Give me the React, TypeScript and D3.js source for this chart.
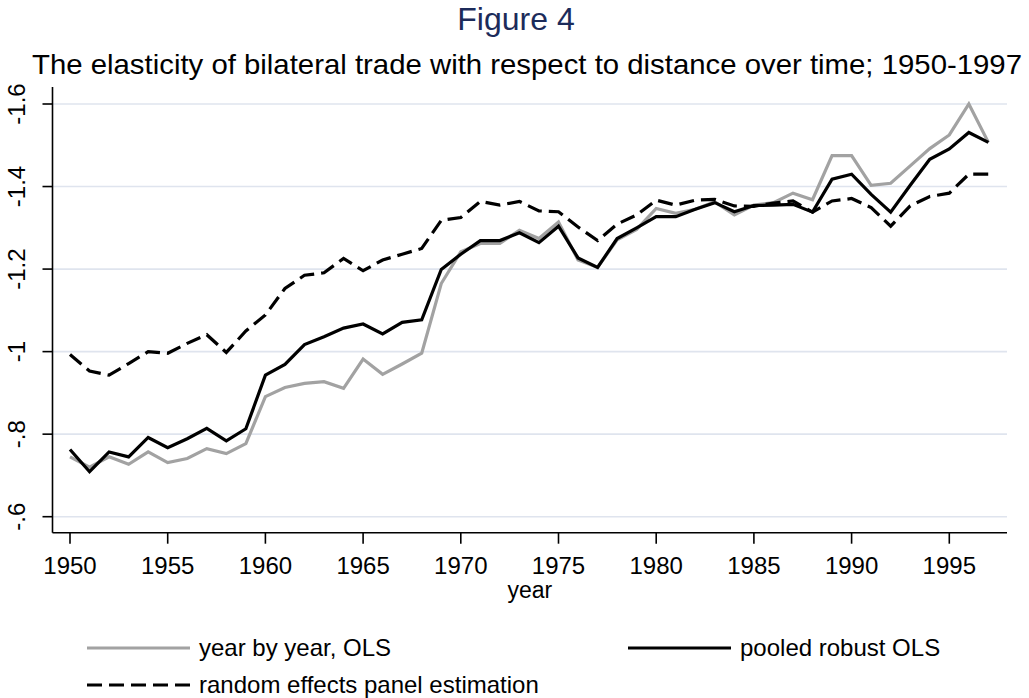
import React from 'react';
import * as d3 from 'd3';

const years = d3.range(1950, 1998);

const yearByYearOLS = [
  -0.745, -0.72, -0.745, -0.727, -0.757, -0.731, -0.741, -0.765, -0.753, -0.777,
  -0.891, -0.913, -0.923, -0.927, -0.911, -0.982, -0.945, -0.97, -0.996, -1.165,
  -1.242, -1.262, -1.262, -1.294, -1.274, -1.314, -1.222, -1.204, -1.271, -1.296,
  -1.347, -1.335, -1.345, -1.363, -1.331, -1.355, -1.361, -1.384, -1.368, -1.475,
  -1.475, -1.403, -1.408, -1.45, -1.492, -1.525, -1.6, -1.507,
];

const pooledRobustOLS = [
  -0.763, -0.709, -0.757, -0.745, -0.792, -0.767, -0.789, -0.814, -0.784, -0.813,
  -0.943, -0.969, -1.017, -1.036, -1.057, -1.067, -1.043, -1.071, -1.077, -1.199,
  -1.236, -1.269, -1.269, -1.288, -1.264, -1.304, -1.227, -1.204, -1.274, -1.3,
  -1.327, -1.327, -1.345, -1.361, -1.339, -1.354, -1.355, -1.357, -1.338, -1.418,
  -1.43, -1.381, -1.338, -1.403, -1.466, -1.491, -1.531, -1.507,
];

const randomEffects = [
  -0.993, -0.953, -0.943, -0.971, -1.0, -0.996, -1.02, -1.041, -0.998, -1.05,
  -1.089, -1.153, -1.185, -1.191, -1.226, -1.196, -1.222, -1.236, -1.25, -1.318,
  -1.325, -1.364, -1.355, -1.364, -1.341, -1.339, -1.302, -1.269, -1.309, -1.331,
  -1.367, -1.355, -1.367, -1.369, -1.353, -1.352, -1.36, -1.365, -1.338, -1.365,
  -1.371, -1.349, -1.304, -1.353, -1.376, -1.384, -1.43, -1.43,
];

const xTicks = [1950, 1955, 1960, 1965, 1970, 1975, 1980, 1985, 1990, 1995];
const yTicks = [-1.6, -1.4, -1.2, -1, -0.8, -0.6];
const yTickLabels = ['-1.6', '-1.4', '-1.2', '-1', '-.8', '-.6'];

const FONT = '"Liberation Sans", Arial, sans-serif';

const series = [
  { name: 'year by year, OLS', values: yearByYearOLS, color: '#a2a2a2', dash: null },
  { name: 'pooled robust OLS', values: pooledRobustOLS, color: '#000000', dash: null },
  { name: 'random effects panel estimation', values: randomEffects, color: '#000000', dash: '15,7' },
];

const App = () => {
  const width = 1029;
  const height = 698;

  // plot region in pixels
  const left = 52.5;
  const right = 1007;
  const top = 87;
  const bottom = 532.7;

  const x = d3.scaleLinear().domain([1950, 1995]).range([70, 949.3]);
  const y = d3.scaleLinear().domain([-0.6, -1.6]).range([516.7, 104]);

  const line = (vals: number[]) =>
    d3.line<number>()
      .x((_, i) => x(years[i]))
      .y(d => y(d))(vals) || '';

  const legendRows = [
    { s: series[0], lx: 87, ly: 648 },
    { s: series[1], lx: 628, ly: 648 },
    { s: series[2], lx: 87, ly: 685 },
  ];

  return (
    <svg
      width={width}
      height={height}
      style={{ position: 'absolute', left: 0, top: 0, background: '#fff' }}
      fontFamily={FONT}
    >
      <rect x={0} y={0} width={width} height={height} fill="#fff" />

      <text x={516} y={30} textAnchor="middle" fontSize={32} fill="#1c2b5a">Figure 4</text>
      <text
        x={527}
        y={74}
        textAnchor="middle"
        fontSize={28}
        textLength={990}
        lengthAdjust="spacingAndGlyphs"
        fill="#000"
      >
        The elasticity of bilateral trade with respect to distance over time; 1950-1997
      </text>

      {/* gridlines */}
      {yTicks.map(t => (
        <line key={'g' + t} x1={left} x2={right} y1={y(t)} y2={y(t)} stroke="#dfe4ee" strokeWidth={1.6} />
      ))}

      {/* series */}
      {series.map(s => (
        <path
          key={s.name}
          d={line(s.values)}
          fill="none"
          stroke={s.color}
          strokeWidth={3.2}
          strokeDasharray={s.dash || undefined}
          strokeLinejoin="miter"
        />
      ))}

      {/* axes */}
      <line x1={left} x2={left} y1={top} y2={bottom} stroke="#000" strokeWidth={1.6} />
      <line x1={left} x2={right} y1={bottom} y2={bottom} stroke="#000" strokeWidth={1.6} />

      {yTicks.map((t, i) => (
        <g key={'yt' + t}>
          <line x1={left - 10} x2={left} y1={y(t)} y2={y(t)} stroke="#000" strokeWidth={1.6} />
          <text
            transform={`translate(25,${y(t)}) rotate(-90)`}
            textAnchor="middle"
            fontSize={24}
            fill="#000"
          >
            {yTickLabels[i]}
          </text>
        </g>
      ))}

      {xTicks.map(t => (
        <g key={'xt' + t}>
          <line x1={x(t)} x2={x(t)} y1={bottom} y2={bottom + 11} stroke="#000" strokeWidth={1.6} />
          <text x={x(t)} y={574} textAnchor="middle" fontSize={24} fill="#000">{t}</text>
        </g>
      ))}

      <text x={(left + right) / 2} y={598} textAnchor="middle" fontSize={23} fill="#000">year</text>

      {/* legend */}
      {legendRows.map(r => (
        <g key={'lg' + r.s.name}>
          <line
            x1={r.lx}
            x2={r.lx + 103}
            y1={r.ly}
            y2={r.ly}
            stroke={r.s.color}
            strokeWidth={3.2}
            strokeDasharray={r.s.dash || undefined}
          />
          <text x={r.lx + 112} y={r.ly + 8} fontSize={24} fill="#000">{r.s.name}</text>
        </g>
      ))}
    </svg>
  );
};

export default App;
